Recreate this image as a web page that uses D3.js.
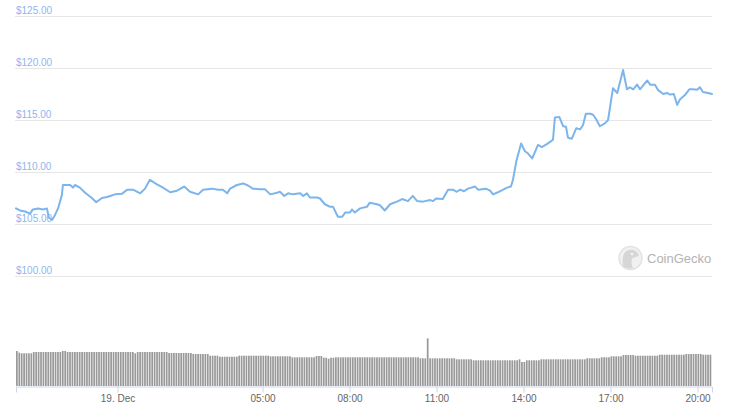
<!DOCTYPE html>
<html><head><meta charset="utf-8">
<script src="https://cdn.jsdelivr.net/npm/d3@7"></script>
<style>
body{margin:0;background:#fff;}
svg{display:block;font-family:"Liberation Sans",Arial,sans-serif;}
</style>
</head><body>
<svg id="c" width="731" height="417"></svg>
<script>
// ---- data ----
const priceTimes = [
"20:30","20:38","20:49","20:59","21:05","21:16","21:26","21:34","21:38","21:45","21:51","21:57",
"22:05","22:07","22:22","22:28","22:32","22:42","22:53","23:07","23:16","23:28","23:38","23:45","23:55",
"00:09","00:20","00:32","00:47","00:57","01:07","01:22","01:34","01:49","02:03","02:18","02:30","02:47","02:57",
"03:16","03:28","03:38","03:47","03:53","04:07","04:20","04:30","04:40","04:55","05:05","05:16","05:30","05:36",
"05:45","05:53","06:03","06:18","06:24","06:32","06:38","06:53","06:59","07:09","07:20","07:26","07:36","07:45",
"07:51","08:01","08:05","08:11","08:22","08:36","08:42","08:57","09:03","09:13","09:24","09:38","09:49","10:01",
"10:11","10:20","10:32","10:47","10:53","10:59","11:13","11:24","11:34","11:42","11:49","11:57","12:05","12:20",
"12:26","12:42","12:51","12:57","13:07","13:18","13:26","13:34","13:38","13:45","13:55","14:03","14:09","14:18",
"14:30","14:38","14:49","14:55","15:01","15:05","15:14","15:22","15:28","15:32","15:40","15:49","15:57","16:03",
"16:09","16:18","16:24","16:30","16:38","16:49","16:55","17:05","17:14","17:26","17:34","17:40","17:47","17:55",
"18:01","18:16","18:22","18:32","18:38","18:49","18:57","19:03","19:11","19:18","19:24","19:34","19:43","19:51",
"19:59","20:05","20:11","20:22","20:30"];
const prices = [
106.5,106.3,106.2,106.0,106.4,106.5,106.4,106.5,105.6,105.4,105.9,106.5,
107.8,108.75,108.75,108.5,108.75,108.5,108.0,107.5,107.1,107.5,107.6,107.7,107.85,
107.9,108.3,108.3,107.95,108.4,109.25,108.8,108.5,108.05,108.2,108.6,108.1,107.85,108.3,
108.4,108.3,108.3,107.95,108.4,108.75,108.9,108.7,108.4,108.35,108.35,107.85,108.0,108.1,
107.7,107.95,107.85,107.95,107.7,107.95,107.55,107.55,107.45,106.9,106.65,106.65,105.7,105.7,
106.1,106.1,106.4,106.1,106.5,106.65,107.05,106.9,106.8,106.3,106.9,107.15,107.4,107.2,
107.7,107.2,107.15,107.3,107.2,107.45,107.4,108.3,108.3,108.1,108.3,108.15,108.4,108.6,
108.3,108.4,108.2,107.85,108.05,108.3,108.5,108.6,109.2,111.0,112.75,112.0,111.8,111.3,
112.6,112.4,112.7,112.9,113.1,115.25,115.3,114.4,114.35,113.3,113.2,114.2,114.1,114.5,
115.6,115.6,115.5,115.1,114.4,114.7,115.0,118.05,117.6,119.8,117.95,118.15,117.95,118.4,
117.95,118.8,118.4,118.4,117.9,117.5,117.6,117.45,117.5,116.45,117.0,117.4,117.95,117.95,
117.9,118.15,117.7,117.6,117.5];
// 24h volume, one bar per 5 minutes from 18 Dec 20:30
const volumes = [
35,33.3,32.7,32.7,32.7,32.7,32.7,34,34,34,34,34,34,34,34,34,34,34,34,35,35,
34,34,34,34,34,34,34,34,34,34,34,34,34,34,34,34,34,34,34,34,34,34,34,34,34,34,34,34,
32.7,34,34,34,34,34,34,34,34,34,34,34,34,34,
33,33,33,33,33,33,33,33,33,33,32,32,32,32,32,32,32,30.3,30.3,30.3,30.3,
29.3,29.3,29.3,29.3,29.3,29.3,29.3,29.3,
30.3,30.3,30.3,30.3,30.3,30.3,30.3,30.3,30.3,30.3,30.3,30.3,30.3,
29.7,29.7,29.7,29.7,29.7,29.7,29.7,29.7,29.7,
28.7,28.7,28.7,28.7,28.7,28.7,28.7,28.7,28.7,28.7,30,30,30,
28.3,28.3,27.3,28.3,28.3,
28.7,28.7,28.7,28.7,28.7,28.7,28.7,28.7,28.7,28.7,28.7,28.7,28.7,28.7,28.7,28.7,28.7,28.7,
28.7,28.7,28.7,28.7,28.7,28.7,28.7,28.7,28.7,28.7,28.7,28.7,28.7,28.7,28.7,28.7,28.7,
27.7,27.7,27.7,47.7,
27.7,27.7,27.7,27.7,27.7,27.7,27.7,27.7,27.7,27.7,27.7,
26.7,26.7,26.7,26.7,26.7,26.7,26.7,
25.7,25.7,25.7,25.7,25.7,25.7,25.7,25.7,25.7,25.7,25.7,25.7,25.7,25.7,25.7,25.7,25.7,25.7,25.7,
26.7,24,24,25.7,25.7,25.7,25.7,25.7,25.7,
26.7,26.7,26.7,26.7,26.7,26.7,26.7,26.7,26.7,26.7,26.7,26.7,26.7,26.7,26.7,26.7,26.7,26.7,26.7,
27.7,27.7,27.7,27.7,27.7,27.7,28.7,28.7,28.7,28.7,
29.7,29.7,29.7,29.7,29.7,31,31,31,31,31,
30.3,30.3,30.3,30.3,30.3,30.3,30.3,30.3,30.3,30.3,
31.3,31.3,31.3,31.3,31.3,31.3,31.3,31.3,31.3,31.3,31.3,
32,32,32,32,32,32,32,31.3,31.3,31.3,31.3];
const priceTicks = [100,105,110,115,120,125];
const timeTickHours = [0,5,8,11,14,17,20]; // on 19 Dec

// ---- build ----
const svg = d3.select("#c");
svg.append("rect").attr("width",731).attr("height",417).attr("fill","#fff");

let day = 18, prevMin = -1;
const priceData = priceTimes.map((s,i)=>{
  const [h,m] = s.split(":").map(Number);
  const mm = h*60+m;
  if (prevMin >= 0 && mm < prevMin) day = 19;
  prevMin = mm;
  return {t:new Date(2019,11,day,h,m), v:prices[i]};
});
const start = new Date(2019,11,18,20,30), end = new Date(2019,11,19,20,30);
const x = d3.scaleTime().domain([start,end]).range([16,712]);
const y = d3.scaleLinear().domain([100,125]).range([276,16]);
const yV = d3.scaleLinear().domain([0,48]).range([386,338]);

// grid + labels
const grid = svg.append("g");
grid.selectAll("line").data(priceTicks).join("line")
  .attr("x1",15).attr("x2",712)
  .attr("y1",d=>Math.round(y(d))+0.5).attr("y2",d=>Math.round(y(d))+0.5)
  .attr("stroke","#e6e6e6").attr("stroke-width",1);
grid.selectAll("text").data(priceTicks).join("text")
  .attr("x",16).attr("y",d=>Math.round(y(d))-2)
  .attr("font-size","10px").attr("fill","#8fb5ec")
  .text(d=>"$"+d3.format(".2f")(d));

// watermark
const wm = svg.append("g");
wm.append("circle").attr("cx",630.5).attr("cy",258).attr("r",11.5)
  .attr("fill","#f1f1f1").attr("stroke","#e2e2e2").attr("stroke-width",1.5);
wm.append("path").attr("d","M623,266 C622,258 623,251 629,250 C634,249 638,252 639,256 C636,257 633,257 632,259 C631,262 632,265 633,268 C629,269 625,268 623,266 Z")
  .attr("fill","#d6d6d6");
wm.append("circle").attr("cx",632).attr("cy",254).attr("r",1.3).attr("fill","#f6f6f6");
wm.append("text").attr("x",647).attr("y",262.5).attr("font-size","13px")
  .attr("fill","#b3b3b3").text("CoinGecko");

// volume bars
const step = x(new Date(start.getTime()+5*60000)) - x(start);
const volData = volumes.map((v,i)=>({t:new Date(start.getTime()+i*5*60000), v}));
svg.append("g").selectAll("rect").data(volData).join("rect")
  .attr("x",d=>x(d.t)).attr("width",step-0.7)
  .attr("y",d=>yV(d.v)).attr("height",d=>386-yV(d.v))
  .attr("fill","#999");

// x axis
const tickDates = timeTickHours.map(h=>new Date(2019,11,19,h,0));
const xAxis = d3.axisBottom(x).tickValues(tickDates).tickSizeOuter(0).tickSize(6).tickPadding(2.5)
  .tickFormat(d=> d.getHours()===0 ? d3.timeFormat("%-d. %b")(d) : d3.timeFormat("%H:%M")(d));
const ax = svg.append("g").attr("transform","translate(0,386.5)").call(xAxis);
ax.select(".domain").attr("stroke","#ccd6eb");
ax.selectAll(".tick line").attr("stroke","#ccd6eb");
ax.selectAll(".tick text").attr("font-size","10px").attr("fill","#666").attr("font-family","'Liberation Sans',Arial,sans-serif");

// price line
const line = d3.line().x(d=>x(d.t)).y(d=>y(d.v));
svg.append("path").datum(priceData).attr("d",line)
  .attr("fill","none").attr("stroke","#7cb5ec").attr("stroke-width",2)
  .attr("stroke-linejoin","round").attr("stroke-linecap","round");
</script>
</body></html>
